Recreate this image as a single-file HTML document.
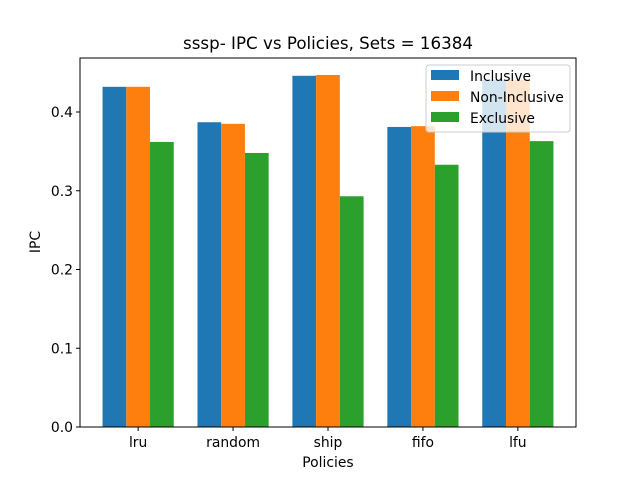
<!DOCTYPE html>
<html><head><meta charset="utf-8"><style>body{margin:0;background:#fff}svg{display:block;font-family:"DejaVu Sans","Liberation Sans",sans-serif}</style></head>
<body>
<svg id="c" width="640" height="480"></svg>
<script>
const categories=["lru","random","ship","fifo","lfu"];
const seriesNames=["Inclusive","Non-Inclusive","Exclusive"];
const inclusive=[0.432,0.387,0.446,0.381,0.441];
const nonInclusive=[0.432,0.385,0.447,0.382,0.441];
const exclusive=[0.362,0.348,0.293,0.333,0.363];
const yTicks=[0,0.1,0.2,0.3,0.4];
const colors=["#1f77b4","#ff7f0e","#2ca02c"];
const NS="http://www.w3.org/2000/svg";
const svg=document.getElementById("c");
const L=80,R=576,T=58,B=427;
const xs=v=>L+(v+0.6125)/5.225*(R-L);
const ys=v=>B-v*787.5;
function mk(t,a,p){const e=document.createElementNS(NS,t);for(const k in a)e.setAttribute(k,a[k]);(p||svg).appendChild(e);return e;}
const series=[inclusive,nonInclusive,exclusive];
series.forEach((s,j)=>s.forEach((v,i)=>{
const x0=xs(i+(j-1)*0.25-0.125),x1=xs(i+(j-1)*0.25+0.125);
const r=mk("rect",{x:x0,y:ys(v),width:x1-x0,height:B-ys(v),fill:colors[j]});


}));
mk("rect",{x:L,y:T,width:R-L,height:B-T,fill:"none",stroke:"#000","stroke-width":1,});
categories.forEach((c,i)=>{
const x=xs(i);
mk("line",{x1:x,x2:x,y1:B,y2:B+4,stroke:"#000"});
const t=mk("text",{x:x,y:B+20,"text-anchor":"middle","font-size":13.9});t.textContent=c;

});
yTicks.forEach(v=>{
const y=ys(v);
mk("line",{x1:L-4,x2:L,y1:y,y2:y,stroke:"#000"});
const t=mk("text",{x:L-7,y:y+5,"text-anchor":"end","font-size":13.9});t.textContent=v.toFixed(1);

});
let t=mk("text",{x:328,y:49,"text-anchor":"middle","font-size":16.7,});t.textContent="sssp- IPC vs Policies, Sets = 16384";
t=mk("text",{x:328,y:467,"text-anchor":"middle","font-size":13.9,});t.textContent="Policies";
t=mk("text",{x:0,y:0,"text-anchor":"middle","font-size":13.9,transform:"translate(40,242) rotate(-90)",});t.textContent="IPC";
const lg=mk("g",{});
mk("rect",{x:426,y:65,width:144,height:67,rx:3,fill:"#fff","fill-opacity":0.8,stroke:"#ccc"},lg);
seriesNames.forEach((n,j)=>{
const y=69+j*21;
mk("rect",{x:431,y:y+1,width:28,height:10,fill:colors[j]},lg);
const tt=mk("text",{x:470,y:y+12,"font-size":13.9},lg);tt.textContent=n;

});
</script>
</body></html>
